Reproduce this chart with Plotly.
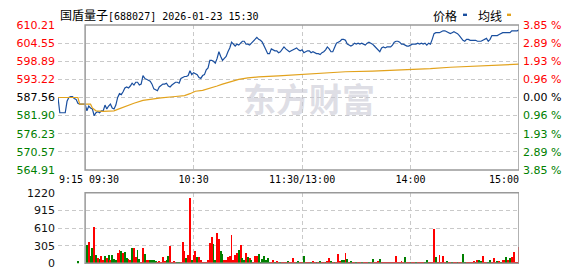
import plotly.graph_objects as go

W, H = 578, 276

# ---------------- data ----------------
stock_name = "国盾量子"
stock_code = "688027"
timestamp = "2026-01-23 15:30"
prev_close = 587.56

price_ticks = [564.91, 570.57, 576.23, 581.90, 587.56, 593.22, 598.89, 604.55, 610.21]
pct_labels = ["3.85", "2.89", "1.93", "0.96", "0.00", "0.96", "1.93", "2.89", "3.85"]
vol_ticks = [0, 305, 610, 915, 1220]
time_ticks = [60, 120, 180]
time_tick_labels = ["10:30", "11:30/13:00", "14:00"]
edge_time_labels = ["9:15", "09:30", "15:00"]
edge_time_pos = [-15, 0, 240]

# 9:15 - 9:29 call auction (minutes relative to 09:30)
premarket_minutes = list(range(-15, 0))
premarket_price = [587.56, 582.79, 582.79, 582.79, 582.79, 586.37, 587.56, 587.86,
                   587.86, 587.26, 586.97, 585.77, 585.47, 585.47, 585.47]

# 09:30 .. 15:00 (trading minute index 0..240)
session_price = [
    585.47, 583.39, 584.88, 584.28, 583.98, 581.90, 582.79, 583.09, 582.79, 583.39,
    583.39, 585.18, 583.98, 584.88, 585.47, 584.28, 583.98, 585.18, 587.56, 588.75,
    588.46, 589.35, 590.54, 590.84, 590.54, 591.14, 592.03, 591.44, 592.33, 592.33,
    591.44, 591.73, 594.41, 593.52, 593.22, 592.93, 592.63, 591.73, 590.24, 589.95,
    589.65, 590.84, 591.44, 591.73, 591.73, 592.03, 591.14, 590.84, 591.44, 592.03,
    592.33, 592.33, 592.03, 593.52, 593.82, 594.12, 594.12, 594.41, 595.90, 594.71,
    595.31, 595.01, 594.71, 593.82, 593.52, 594.41, 594.71, 596.20, 596.80, 599.18,
    599.18, 598.88, 598.29, 599.78, 601.86, 600.37, 599.18, 599.78, 600.37, 601.86,
    603.06, 604.85, 604.25, 603.65, 604.25, 603.95, 604.55, 605.14, 605.14, 604.25,
    604.25, 603.95, 604.55, 605.14, 605.74, 606.34, 605.74, 605.44, 604.85, 603.36,
    602.46, 601.27, 601.27, 602.76, 602.46, 602.16, 602.16, 601.57, 601.86, 602.46,
    603.36, 602.76, 602.16, 601.86, 602.16, 602.46, 602.76, 603.06, 602.46, 602.16,
    602.46, 601.57, 601.86, 602.16, 602.16, 601.57, 601.86, 601.57, 601.27, 601.27,
    600.97, 601.57, 601.86, 602.46, 603.36, 602.76, 601.86, 601.86, 603.06, 604.55,
    604.85, 605.14, 605.74, 605.74, 605.44, 604.25, 603.95, 603.65, 603.95, 604.55,
    604.25, 604.55, 604.25, 604.55, 604.25, 603.95, 604.55, 604.85, 604.55, 604.25,
    603.65, 603.06, 602.46, 601.86, 603.06, 603.36, 603.06, 603.36, 603.36, 603.36,
    603.95, 604.85, 605.14, 605.14, 604.85, 604.25, 604.25, 603.95, 603.65, 603.65,
    603.95, 604.25, 604.25, 604.25, 604.55, 604.25, 604.55, 604.25, 604.55, 603.95,
    604.55, 604.25, 605.74, 607.53, 607.83, 607.83, 607.83, 608.12, 608.42, 608.42,
    608.12, 607.83, 607.53, 607.83, 608.12, 607.83, 607.53, 606.93, 606.04, 605.44,
    605.14, 605.74, 605.74, 605.44, 605.44, 605.44, 605.44, 605.14, 605.14, 605.14,
    605.44, 605.74, 606.04, 605.14, 605.74, 606.93, 606.93, 606.93, 606.93, 607.23,
    607.53, 607.83, 607.83, 607.83, 607.83, 607.83, 608.42, 608.42, 608.42, 608.42,
    608.72,
]
session_minutes = list(range(0, 241))

# average price line (read at these minutes)
avg_minutes = [-15, -4, -3, 0, 3, 4, 6, 10, 16, 18, 20, 23, 27, 32, 37, 42, 50, 55, 58,
               61, 65, 68, 73, 76, 80, 85, 90, 96, 107, 120, 130, 144, 159, 173, 191,
               202, 215, 226, 240]
avg_price = [587.56, 587.56, 585.47, 585.47, 585.47, 584.28, 583.39, 583.24, 583.39,
             583.83, 584.28, 585.03, 585.77, 586.67, 587.11, 587.41, 587.86, 588.16,
             588.75, 589.50, 589.80, 590.24, 591.14, 591.73, 592.33, 593.22, 593.67,
             594.03, 594.32, 594.80, 595.16, 595.61, 595.82, 596.11, 596.59, 597.01,
             597.31, 597.60, 597.99]

# volume (lots); auction bar then minutes 1..240
auction_vol_minute = -4
auction_vol = 40
auction_dir = "d"
volume = [
    316, 377, 122, 266, 638, 150, 94, 83, 133, 55,
    133, 94, 139, 55, 155, 83, 55, 183, 233, 211,
    177, 200, 88, 83, 67, 266, 266, 111, 233, 83,
    22, 266, 166, 67, 67, 55, 67, 55, 44, 28,
    44, 22, 111, 44, 67, 133, 305, 28, 39, 22,
    22, 22, 22, 372, 222, 100, 139, 1137, 67, 155,
    222, 111, 111, 55, 22, 22, 28, 67, 350, 455,
    333, 55, 532, 432, 211, 166, 60, 55, 111, 122,
    488, 55, 139, 183, 233, 316, 94, 55, 188, 111,
    94, 55, 33, 122, 122, 166, 28, 83, 122, 55,
    94, 28, 22, 55, 22, 39, 22, 17, 33, 17,
    22, 39, 11, 15, 97, 15, 20, 50, 15, 20,
    131, 15, 15, 15, 20, 45, 15, 15, 15, 45,
    15, 15, 26, 45, 97, 45, 20, 26, 20, 169,
    50, 68, 68, 188, 84, 26, 45, 15, 12, 15,
    10, 15, 12, 10, 15, 12, 10, 15, 84, 15,
    15, 42, 74, 15, 15, 15, 15, 15, 15, 15,
    15, 131, 26, 15, 45, 26, 121, 15, 15, 15,
    12, 15, 10, 15, 12, 15, 10, 12, 53, 15,
    15, 15, 590, 121, 32, 150, 15, 131, 15, 45,
    15, 15, 15, 15, 15, 15, 15, 15, 169, 21,
    15, 21, 15, 15, 45, 21, 53, 68, 45, 131,
    15, 15, 15, 68, 15, 100, 15, 45, 45, 15,
    58, 68, 121, 68, 95, 111, 200, 21, 21, 285,
]
# u = up (red), d = down (green); one row per 10 minutes
vol_dir_rows = [
    "duddududuu", "dududdduud", "udduuduudd", "uuduuddddu", "uuuudduuuu",
    "dduuuduudu", "uduuuuuuuu", "dduudduuuu", "uuuududdud", "uduuuddddd",
    "dduuduuduu", "uduuuudduu", "duuuduudud", "uuduududuu", "uddududuud",
    "uuduuududu", "uuduuuuuuu", "uuuuuuduud", "uuduuuuddu", "uuuduuuuud",
    "uuduuduudd", "uuuuududdu", "uudduuudud", "uududuuuuu",
]
vol_dir = list("".join(vol_dir_rows))
vol_minutes = list(range(1, 241))

# ---------------- styles ----------------
BLUE = "#1a4f9f"
ORANGE = "#e2a21c"
RED = "#ff0000"
GREEN = "#008000"
GRID = "#c9c9c9"
BOX = "#999999"
DASH = "4px,3px"
LBL_FONT = "DejaVu Sans"
MONO = "DejaVu Sans Mono"
CJK = "Noto Sans CJK SC"


def tick_color(v):
    if abs(v - prev_close) < 1e-6:
        return "#000000"
    return RED if v > prev_close else GREEN


price_ticktext = [f'<span style="color:{tick_color(v)}">{v:.2f}</span>' for v in price_ticks]
pct_ticktext = [f'<span style="color:{tick_color(v)}">{p} %</span>'
                for v, p in zip(price_ticks, pct_labels)]

fig = go.Figure()
fig.add_trace(go.Scatter(
    x=premarket_minutes + session_minutes, y=premarket_price + session_price,
    mode="lines", line=dict(color=BLUE, width=1.2), xaxis="x", yaxis="y",
    hoverinfo="skip"))
fig.add_trace(go.Scatter(
    x=avg_minutes, y=avg_price, mode="lines", line=dict(color=ORANGE, width=1.2),
    xaxis="x", yaxis="y", hoverinfo="skip"))
fig.add_trace(go.Scatter(
    x=[0], y=[prev_close], mode="markers", marker=dict(opacity=0),
    xaxis="x", yaxis="y3", hoverinfo="skip"))
bar_colors = [RED if d == "u" else GREEN for d in vol_dir]
fig.add_trace(go.Bar(
    x=[auction_vol_minute] + vol_minutes, y=[auction_vol] + volume,
    marker=dict(color=[GREEN if auction_dir == "d" else RED] + bar_colors, line=dict(width=0)),
    width=0.5, xaxis="x2", yaxis="y2", hoverinfo="skip"))

xdom = [58 / W, 519 / W]
common_x = dict(domain=xdom, range=[-15, 240], showgrid=True, gridcolor=GRID,
                griddash=DASH, gridwidth=1, zeroline=False, showline=False, ticks="",
                fixedrange=True)
fig.update_layout(
    width=W, height=H, margin=dict(l=0, r=0, t=0, b=0),
    paper_bgcolor="white", plot_bgcolor="white", showlegend=False, bargap=0,
    xaxis=dict(**common_x, anchor="y", tickvals=[-15] + time_ticks,
               ticktext=[""] + time_tick_labels,
               tickfont=dict(family=MONO, size=10, color="#000"), ticklabelstandoff=2),
    xaxis2=dict(**common_x, anchor="y2", tickvals=[-15] + time_ticks, showticklabels=False),
    yaxis=dict(domain=[(H - 172) / H, (H - 20) / H], range=[price_ticks[0], price_ticks[-1]],
               tickvals=price_ticks, ticktext=price_ticktext, showgrid=True, gridcolor=GRID,
               griddash=DASH, zeroline=False, showline=False, ticks="", anchor="x",
               tickfont=dict(family=LBL_FONT, size=11), ticklabelstandoff=2),
    yaxis3=dict(overlaying="y", side="right", anchor="x",
                range=[price_ticks[0], price_ticks[-1]], tickvals=price_ticks,
                ticktext=pct_ticktext, showgrid=False, zeroline=False, showline=False,
                ticks="", tickfont=dict(family=LBL_FONT, size=11), ticklabelstandoff=3),
    yaxis2=dict(domain=[(H - 270) / H, (H - 196) / H], range=[0, vol_ticks[-1]],
                tickvals=vol_ticks, ticktext=[str(v) for v in vol_ticks], showgrid=True,
                gridcolor=GRID, griddash=DASH, zeroline=False, showline=False, ticks="",
                anchor="x2", tickfont=dict(family=LBL_FONT, size=11, color="#111"),
                ticklabelstandoff=2),
)

# solid frames for the continuous-trading area
fig.add_shape(type="rect", xref="x", yref="y domain", x0=0, x1=240, y0=0, y1=1,
              line=dict(color=BOX, width=1.5), layer="above")
fig.add_shape(type="rect", xref="x2", yref="y2 domain", x0=0, x1=240, y0=0, y1=1,
              line=dict(color=BOX, width=1.5), layer="above")

# edge time labels
for lbl, pos, anc, sh in zip(edge_time_labels, edge_time_pos, ["left", "left", "right"], [-1, 2, 2]):
    fig.add_annotation(x=pos, y=0, xref="x", yref="y domain", text=lbl, showarrow=False,
                       xanchor=anc, yanchor="top", xshift=sh, yshift=-2,
                       font=dict(family=MONO, size=10, color="#000"))

# title
title = (f'<span style="font-family:{CJK};font-size:12px">{stock_name}</span>'
         f'[{stock_code}] {timestamp}')
fig.add_annotation(x=58 / W, y=1 - 9 / H, xref="paper", yref="paper", text=title,
                   showarrow=False, xanchor="left", yanchor="middle",
                   font=dict(family=MONO, size=10, color="#000"))

# legend
fig.add_annotation(x=431 / W, y=1 - 10 / H, xref="paper", yref="paper", text="价格",
                   showarrow=False, xanchor="left", yanchor="middle",
                   font=dict(family=CJK, size=12, color="#000"))
fig.add_annotation(x=476 / W, y=1 - 10 / H, xref="paper", yref="paper", text="均线",
                   showarrow=False, xanchor="left", yanchor="middle",
                   font=dict(family=CJK, size=12, color="#000"))
fig.add_shape(type="rect", xref="paper", yref="paper", x0=463 / W, x1=467 / W,
              y0=1 - 10.5 / H, y1=1 - 8 / H, fillcolor=BLUE, line=dict(width=0))
fig.add_shape(type="rect", xref="paper", yref="paper", x0=507 / W, x1=511 / W,
              y0=1 - 10.5 / H, y1=1 - 8 / H, fillcolor=ORANGE, line=dict(width=0))

# watermark
fig.add_annotation(x=309 / W, y=1 - 97 / H, xref="paper", yref="paper",
                   text="<b>东方财富</b>", showarrow=False, xanchor="center", yanchor="middle",
                   font=dict(family=CJK, size=33, color="rgba(200,200,212,0.6)"))

fig.write_html("out.html")
